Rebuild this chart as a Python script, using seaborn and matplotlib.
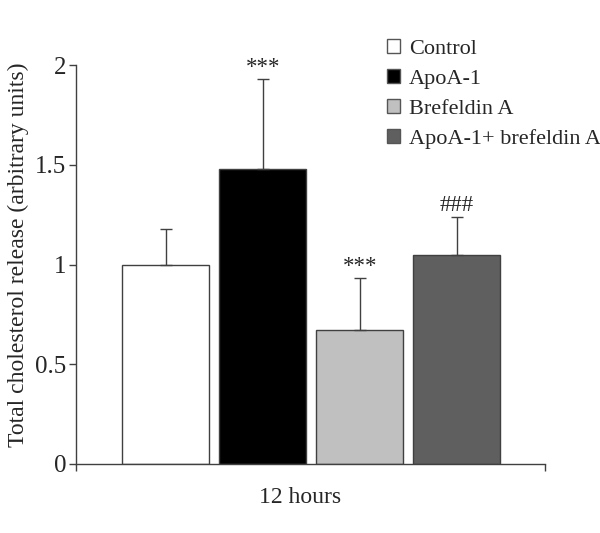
import pandas as pd
import matplotlib.pyplot as plt
import seaborn as sns
from matplotlib.patches import Patch

# Data
treatments = ["Control", "ApoA-1", "Brefeldin A", "ApoA-1+ brefeldin A"]
means = [1.00, 1.48, 0.67, 1.05]
errors = [0.18, 0.45, 0.26, 0.19]
marks = ["", "***", "***", "###"]
time_label = "12 hours"
colors = ["#ffffff", "#000000", "#c0c0c0", "#5f5f5f"]

sns.set_theme(style="white")
plt.rcParams["font.family"] = ["Liberation Serif", "DejaVu Serif"]

df = pd.DataFrame({"time": [time_label] * len(treatments),
                   "treatment": treatments, "value": means})

fig = plt.figure(figsize=(6, 5.33), dpi=100)
ax = fig.add_axes([0.127, 0.1295, 0.781, 0.7485])

sns.barplot(data=df, x="time", y="value", hue="treatment", hue_order=treatments,
            palette=colors, gap=0.1, errorbar=None, edgecolor="#404040",
            linewidth=1, legend=False, ax=ax)

# one-sided error bars and significance marks
for bar, m, e, mk in zip(ax.patches, means, errors, marks):
    cx = bar.get_x() + bar.get_width() / 2
    ax.errorbar(cx, m, yerr=[[0], [e]], fmt="none", ecolor="#404040",
                elinewidth=1, capsize=4, capthick=1)
    if mk:
        ax.text(cx, m + e + 0.005, mk, ha="center", va="bottom", fontsize=16.5)

ax.set_xlim(-0.485, 0.482)
ax.set_ylim(0, 2)
ax.set_yticks([0, 0.5, 1, 1.5, 2])
ax.set_yticklabels(["0", "0.5", "1", "1.5", "2"], fontsize=18)
ax.set_xticks([-0.485, 0.482])
ax.set_xticklabels(["", ""])
ax.tick_params(axis="both", direction="out", length=5, width=1, color="#404040",
               left=True, bottom=True, pad=2)
ax.set_xlabel(time_label, fontsize=17)
ax.set_ylabel("Total cholesterol release (arbitrary units)", fontsize=17)
ax.xaxis.set_label_coords(0.478, -0.058)
ax.yaxis.set_label_coords(-0.10, 0.524)

for side in ["top", "right"]:
    ax.spines[side].set_visible(False)
for side in ["left", "bottom"]:
    ax.spines[side].set_color("#404040")
    ax.spines[side].set_linewidth(1)

handles = [Patch(facecolor=c, edgecolor="#555555", linewidth=1) for c in colors]
fig.legend(handles, treatments, loc="upper left", bbox_to_anchor=(0.63, 0.943),
           frameon=False, fontsize=16, handlelength=0.6, handleheight=0.6,
           handletextpad=0.4, labelspacing=0.45, borderaxespad=0)

fig.savefig("out.png", dpi=100)
